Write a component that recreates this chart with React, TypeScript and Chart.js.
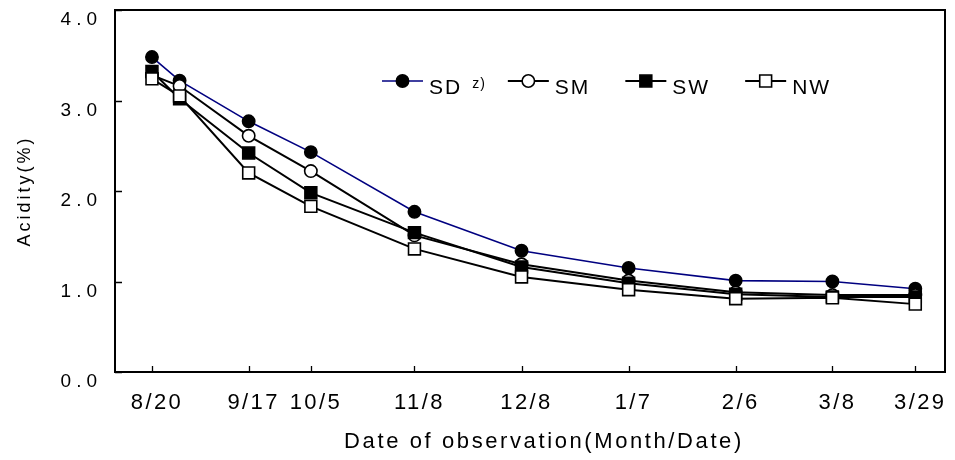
import React, { useEffect, useRef } from 'react';
import { Chart, registerables } from 'chart.js';

Chart.register(...registerables);

// ---- data ----
const seriesNames = ['SD', 'SM', 'SW', 'NW'];
const seriesNotes = ['z)', '', '', ''];
// observation position (days after 8/20)
const obsDay = [0, 8, 28, 46, 76, 107, 138, 169, 197, 221];
const sdValues = [3.48, 3.22, 2.77, 2.43, 1.77, 1.34, 1.15, 1.01, 1.0, 0.92];
const smValues = [3.28, 3.16, 2.61, 2.22, 1.51, 1.19, 1.01, 0.88, 0.85, 0.85];
const swValues = [3.32, 3.02, 2.42, 1.98, 1.54, 1.16, 0.98, 0.86, 0.83, 0.83];
const nwValues = [3.24, 3.05, 2.2, 1.83, 1.36, 1.05, 0.91, 0.81, 0.82, 0.75];
const tickDays = [0, 28, 46, 76, 107, 138, 169, 197, 221];
const tickLabels = ['8/20', '9/17', '10/5', '11/8', '12/8', '1/7', '2/6', '3/8', '3/29'];
const yTickValues = [0, 1, 2, 3, 4];
const xTitle = 'Date of observation(Month/Date)';
const yTitle = 'Acidity(%)';

const FONT = "'Liberation Sans', Arial, Helvetica, sans-serif";

const spacing: Record<string, { labels: string; title: string; shift: number }> = {
  x: { labels: '2.4px', title: '2.6px', shift: 14 },
  y: { labels: '5px', title: '3px', shift: 0 },
};

const spacingPlugin = {
  id: 'spacingPlugin',
  beforeLayout(chart: any) {
    Object.values(chart.scales).forEach((s: any) => {
      if (s.__patched) return;
      s.__patched = true;
      const cfg = spacing[s.id];
      if (!cfg) return;
      const origLabels = s.drawLabels;
      const origTitle = s.drawTitle;
      s.drawLabels = function (area: any) {
        const ctx = this.ctx;
        ctx.save();
        (ctx as any).letterSpacing = cfg.labels;
        origLabels.call(this, area);
        ctx.restore();
      };
      s.drawTitle = function (area: any) {
        const ctx = this.ctx;
        ctx.save();
        (ctx as any).letterSpacing = cfg.title;
        ctx.translate(cfg.shift, 0);
        origTitle.call(this, area);
        ctx.restore();
      };
    });
  },
};

const framePlugin = {
  id: 'framePlugin',
  beforeDatasetsDraw(chart: any) {
    const { ctx, chartArea: a, scales } = chart;
    ctx.save();
    ctx.strokeStyle = '#000';
    ctx.lineWidth = 2;
    ctx.strokeRect(a.left, a.top, a.right - a.left, a.bottom - a.top);
    ctx.lineWidth = 1.3;
    ctx.beginPath();
    tickDays.forEach((d) => {
      const x = Math.round(scales.x.getPixelForValue(d)) + 0.5;
      ctx.moveTo(x, a.bottom);
      ctx.lineTo(x, a.bottom - 6);
    });
    yTickValues.forEach((v) => {
      const y = Math.round(scales.y.getPixelForValue(v)) + 0.5;
      ctx.moveTo(a.left, y);
      ctx.lineTo(a.left + 7, y);
    });
    ctx.stroke();
    ctx.restore();
  },
};

const legendPlugin = {
  id: 'insideLegend',
  afterDraw(chart: any) {
    const { ctx, chartArea: a } = chart;
    ctx.save();
    let x = a.left + 267;
    const lineY = a.top + 71;
    const baseY = a.top + 83.5;
    chart.data.datasets.forEach((ds: any, i: number) => {
      ctx.strokeStyle = ds.borderColor;
      ctx.lineWidth = ds.borderWidth;
      ctx.beginPath();
      ctx.moveTo(x, lineY);
      ctx.lineTo(x + 41, lineY);
      ctx.stroke();
      const cx = x + 20.5;
      ctx.fillStyle = ds.pointBackgroundColor;
      ctx.strokeStyle = ds.pointBorderColor;
      ctx.lineWidth = ds.pointBorderWidth;
      ctx.beginPath();
      if (ds.pointStyle === 'rect') {
        const h = ds.pointRadius * Math.SQRT1_2;
        ctx.rect(cx - h, lineY - h, 2 * h, 2 * h);
      } else {
        ctx.arc(cx, lineY, ds.pointRadius, 0, Math.PI * 2);
      }
      ctx.fill();
      ctx.stroke();
      ctx.fillStyle = '#000';
      ctx.textBaseline = 'alphabetic';
      ctx.textAlign = 'left';
      ctx.font = `21px ${FONT}`;
      (ctx as any).letterSpacing = '2px';
      const tx = x + 47;
      ctx.fillText(ds.label, tx, baseY);
      x = tx + ctx.measureText(ds.label).width;
      const note = seriesNotes[i];
      if (note) {
        x += 10;
        ctx.font = `14px ${FONT}`;
        (ctx as any).letterSpacing = '1px';
        ctx.fillText(note, x, baseY - 6);
        x += ctx.measureText(note).width + 22;
      } else {
        x += 35;
      }
    });
    ctx.restore();
  },
};

export default function App() {
  const ref = useRef<HTMLCanvasElement>(null);
  useEffect(() => {
    const pointCommon = { pointBorderColor: '#000', tension: 0, fill: false };
    const chart = new Chart(ref.current as HTMLCanvasElement, {
      type: 'line',
      data: {
        datasets: [
          {
            label: seriesNames[0],
            data: obsDay.map((d, i) => ({ x: d, y: sdValues[i] })),
            borderColor: '#000080',
            borderWidth: 1.6,
            pointStyle: 'circle',
            pointRadius: 6.2,
            pointBackgroundColor: '#000',
            pointBorderWidth: 1.5,
            order: 3,
            ...pointCommon,
          },
          {
            label: seriesNames[1],
            data: obsDay.map((d, i) => ({ x: d, y: smValues[i] })),
            borderColor: '#000',
            borderWidth: 2,
            pointStyle: 'circle',
            pointRadius: 6.2,
            pointBackgroundColor: '#fff',
            pointBorderWidth: 1.6,
            order: 2,
            ...pointCommon,
          },
          {
            label: seriesNames[2],
            data: obsDay.map((d, i) => ({ x: d, y: swValues[i] })),
            borderColor: '#000',
            borderWidth: 2,
            pointStyle: 'rect',
            pointRadius: 8.4,
            pointBackgroundColor: '#000',
            pointBorderWidth: 1.6,
            order: 1,
            ...pointCommon,
          },
          {
            label: seriesNames[3],
            data: obsDay.map((d, i) => ({ x: d, y: nwValues[i] })),
            borderColor: '#000',
            borderWidth: 2,
            pointStyle: 'rect',
            pointRadius: 8.4,
            pointBackgroundColor: '#fff',
            pointBorderWidth: 1.6,
            order: 0,
            ...pointCommon,
          },
        ],
      },
      options: {
        animation: false,
        responsive: true,
        maintainAspectRatio: false,
        layout: { padding: { top: 10, right: 9, bottom: 0, left: 0 } },
        plugins: { legend: { display: false }, tooltip: { enabled: false } },
        scales: {
          x: {
            type: 'linear',
            min: -10.7,
            max: 229.6,
            afterBuildTicks: (s: any) => {
              s.ticks = tickDays.map((v) => ({ value: v }));
            },
            afterFit: (s: any) => {
              s.height = 88;
              s.paddingLeft = 0;
              s.paddingRight = 0;
            },
            grid: { display: false, drawTicks: false },
            border: { display: false },
            ticks: {
              autoSkip: false,
              maxRotation: 0,
              minRotation: 0,
              padding: 17.8,
              labelOffset: 5,
              color: '#000',
              font: { family: FONT, size: 22 },
              callback: (_v: any, i: number) => tickLabels[i],
            },
            title: {
              display: true,
              text: xTitle,
              color: '#000',
              font: { family: FONT, size: 22 },
              padding: { top: 0, bottom: 4.8 },
            },
          },
          y: {
            type: 'linear',
            min: 0,
            max: 4,
            afterBuildTicks: (s: any) => {
              s.ticks = yTickValues.map((v) => ({ value: v }));
            },
            afterFit: (s: any) => {
              s.width = 115;
              s.paddingTop = 0;
              s.paddingBottom = 0;
            },
            grid: { display: false, drawTicks: false },
            border: { display: false },
            ticks: {
              padding: 13,
              labelOffset: 10,
              color: '#000',
              font: { family: FONT, size: 19 },
              callback: (v: any) => Number(v).toFixed(1),
            },
            title: {
              display: true,
              text: yTitle,
              color: '#000',
              font: { family: FONT, size: 18 },
              padding: { top: 14, bottom: 0 },
            },
          },
        },
      },
      plugins: [spacingPlugin, framePlugin, legendPlugin],
    } as any);
    return () => chart.destroy();
  }, []);
  return (
    <div style={{ position: 'fixed', left: 0, top: 0, width: 955, height: 460, background: '#fff' }}>
      <canvas ref={ref} />
    </div>
  );
}
